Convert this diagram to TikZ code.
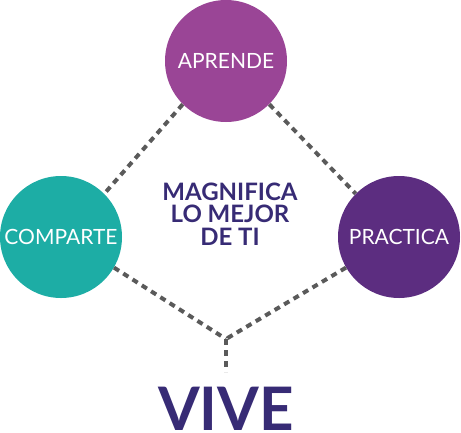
\documentclass[tikz,border=0pt]{standalone}
\usepackage{fontspec}
\setmainfont{Lato}
\definecolor{cAprende}{HTML}{9A4596}
\definecolor{cComparte}{HTML}{1DADA5}
\definecolor{cPractica}{HTML}{5C2D80}
\definecolor{cText}{HTML}{372B75}
\definecolor{cLine}{HTML}{5A5A5A}
\begin{document}
\begin{tikzpicture}[x=1pt,y=-1pt,
  bubble/.style={circle, minimum size=122pt, inner sep=0pt, text=white, font=\fontsize{21}{22}\selectfont},
  link/.style={draw=cLine, line width=4pt, dash pattern=on 6pt off 5pt}]
\useasboundingbox (0,0) rectangle (461,432);
\node[bubble, fill=cAprende] (apr) at (226,61) {APRENDE};
\node[bubble, fill=cComparte] (com) at (61,237) {COMPARTE};
\node[bubble, fill=cPractica] (pra) at (399,237) {PRACTICA};
\coordinate (j) at (226,339);
\coordinate (jend) at (226,372);
\draw[link] (apr.225) -- (com.45);
\draw[link] (apr.-45) -- (pra.135);
\draw[link] (com.-30) -- (j);
\draw[link] (pra.-150) -- (j);
\draw[link] (j) -- (jend);
\node[text=cText, font=\fontsize{24}{22.5}\bfseries\selectfont, align=center, anchor=base] (mag) at (230,245) {MAGNIFICA\\LO MEJOR\\DE TI};
\node[text=cText, font=\fontsize{60}{60}\bfseries\selectfont, anchor=base, inner sep=0pt] (vive) at (226,430) {VIVE};
\end{tikzpicture}
\end{document}
